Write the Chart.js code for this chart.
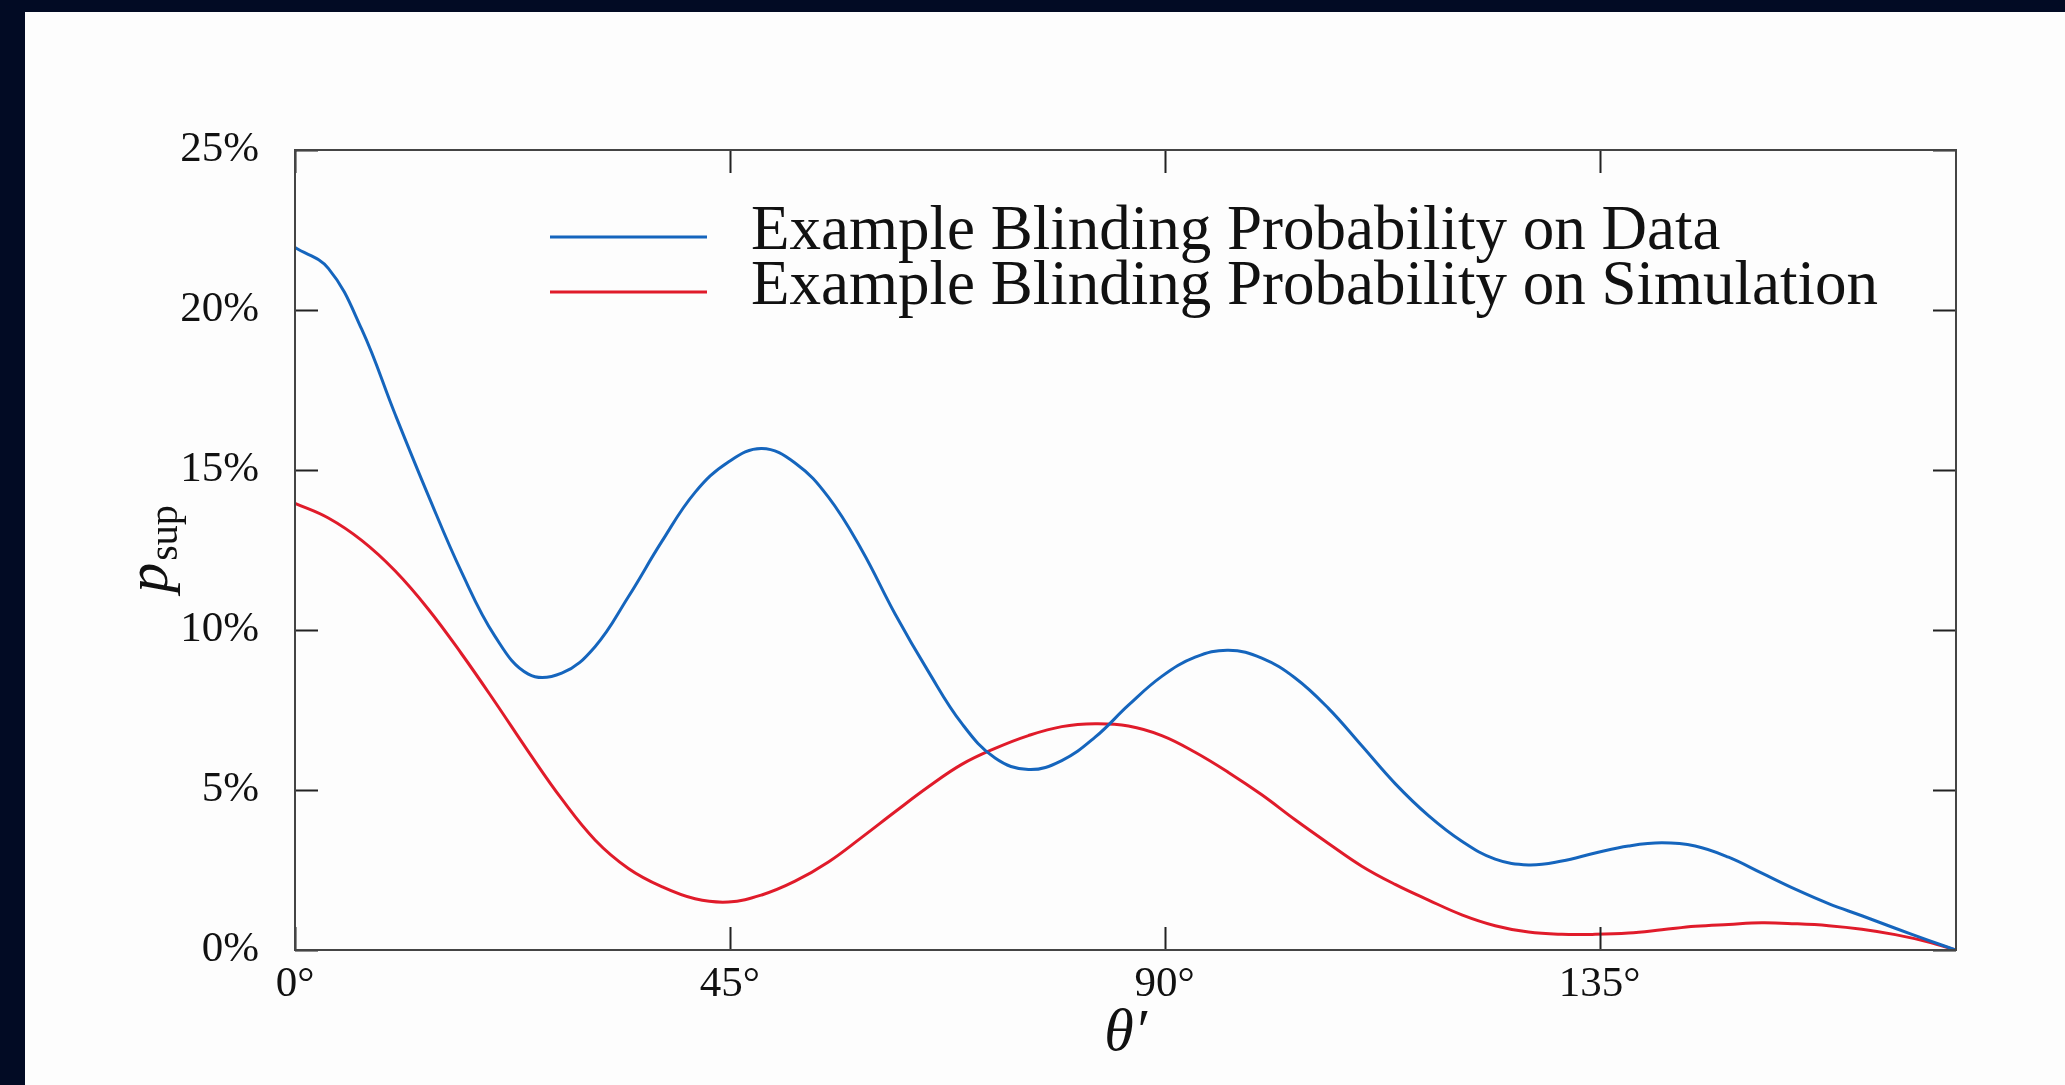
<!DOCTYPE html>
<html>
<head>
<meta charset="utf-8">
<script src="https://cdn.jsdelivr.net/npm/chart.js@4.4.1/dist/chart.umd.min.js"></script>
<style>
  html, body { margin: 0; padding: 0; background: #020b24; width: 2065px; height: 1085px; overflow: hidden; }
  #sheet { position: absolute; left: 25px; top: 12px; width: 2040px; height: 1073px; background: #fdfdfd; }
  canvas { display: block; }
</style>
</head>
<body>
<div id="sheet"><canvas id="chart" width="2040" height="1073"></canvas></div>
<script>
// theta' in degrees (axis runs 0 .. 3 rad)
const theta = [0, 3.45, 6.9, 10.35, 13.8, 17.25, 20.7, 24.15, 27.6, 31.05,
  34.5, 37.95, 41.4, 44.85, 48.3, 51.75, 55.2, 58.65, 62.1, 65.55,
  69.0, 72.45, 75.9, 79.35, 82.8, 86.25, 89.7, 93.15, 96.6, 100.05,
  103.5, 106.95, 110.4, 113.85, 117.3, 120.75, 124.2, 127.65, 131.1, 134.55,
  138.0, 141.45, 144.9, 148.35, 151.8, 155.25, 158.7, 162.15, 165.6, 169.05, 171.89];

const dataProb = [21.95, 21.3, 19.4, 16.75, 14.2, 11.8, 9.8, 8.62, 8.65, 9.48,
  11.04, 12.76, 14.3, 15.25, 15.67, 15.22, 14.15, 12.5, 10.5, 8.7,
  7.08, 6.0, 5.64, 5.92, 6.65, 7.65, 8.55, 9.15, 9.37, 9.12,
  8.5, 7.55, 6.38, 5.2, 4.2, 3.4, 2.84, 2.66, 2.78, 3.03,
  3.25, 3.35, 3.25, 2.9, 2.4, 1.9, 1.45, 1.07, 0.68, 0.3, 0];

const simProb = [13.96, 13.5, 12.8, 11.85, 10.65, 9.25, 7.75, 6.2, 4.72, 3.44,
  2.55, 1.98, 1.6, 1.5, 1.72, 2.15, 2.75, 3.52, 4.32, 5.1,
  5.8, 6.3, 6.7, 6.98, 7.07, 7.0, 6.7, 6.18, 5.55, 4.85,
  4.07, 3.33, 2.62, 2.05, 1.56, 1.1, 0.76, 0.56, 0.49, 0.49,
  0.53, 0.63, 0.74, 0.8, 0.85, 0.82, 0.76, 0.65, 0.48, 0.25, 0];

const seriesLabels = ['Example Blinding Probability on Data', 'Example Blinding Probability on Simulation'];
const xTicks = [0, 45, 90, 135];
const yTicks = [0, 5, 10, 15, 20, 25];

const SERIF = '"Liberation Serif", "DejaVu Serif", serif';
const BLUE = '#1565bd';
const RED = '#e01b2a';

// frame, inward tick marks, legend and axis titles
const decorations = {
  id: 'decorations',
  afterDatasetsDraw(chart) {
    const { ctx, chartArea: a, scales } = chart;
    const tick = 23;
    ctx.save();
    ctx.strokeStyle = '#222';
    ctx.lineWidth = 2;
    scales.x.ticks.forEach(t => {
      const px = Math.round(scales.x.getPixelForValue(t.value)) + 0.5;
      ctx.beginPath();
      ctx.moveTo(px, a.bottom); ctx.lineTo(px, a.bottom - tick);
      ctx.moveTo(px, a.top); ctx.lineTo(px, a.top + tick);
      ctx.stroke();
    });
    scales.y.ticks.forEach(t => {
      const py = Math.round(scales.y.getPixelForValue(t.value)) + 0.5;
      ctx.beginPath();
      ctx.moveTo(a.left, py); ctx.lineTo(a.left + tick, py);
      ctx.moveTo(a.right, py); ctx.lineTo(a.right - tick, py);
      ctx.stroke();
    });
    ctx.strokeStyle = '#444';
    ctx.lineWidth = 2;
    ctx.strokeRect(a.left, a.top, a.right - a.left, a.bottom - a.top);

    // legend
    ctx.font = '63px ' + SERIF;
    ctx.fillStyle = '#111';
    ctx.textBaseline = 'alphabetic';
    ctx.textAlign = 'left';
    chart.data.datasets.forEach((ds, i) => {
      const ly = 225 + i * 55;
      ctx.strokeStyle = ds.borderColor;
      ctx.lineWidth = 3;
      ctx.beginPath();
      ctx.moveTo(525, ly); ctx.lineTo(682, ly);
      ctx.stroke();
      ctx.fillText(ds.label, 726, ly + 12);
    });

    // x title
    ctx.font = 'italic 60px ' + SERIF;
    ctx.textAlign = 'center';
    ctx.textBaseline = 'middle';
    ctx.fillText('\u03B8\u2032', (a.left + a.right) / 2, 1022);

    // y title p_sup, rotated
    ctx.translate(142, (a.top + a.bottom) / 2);
    ctx.rotate(-Math.PI / 2);
    ctx.textAlign = 'left';
    ctx.textBaseline = 'alphabetic';
    ctx.font = 'italic 60px ' + SERIF;
    const pw = ctx.measureText('p').width;
    ctx.font = '40px ' + SERIF;
    const sw = ctx.measureText('sup').width;
    const x0 = -(pw + sw) / 2;
    ctx.font = 'italic 60px ' + SERIF;
    ctx.fillText('p', x0, 0);
    ctx.font = '40px ' + SERIF;
    ctx.fillText('sup', x0 + pw + 2, 10);
    ctx.restore();
  }
};

new Chart(document.getElementById('chart'), {
  type: 'line',
  data: {
    datasets: [
      {
        label: seriesLabels[0],
        data: theta.map((t, i) => ({ x: t, y: dataProb[i] })),
        borderColor: BLUE,
        borderWidth: 3,
        pointRadius: 0,
        tension: 0.4,
        fill: false,
      },
      {
        label: seriesLabels[1],
        data: theta.map((t, i) => ({ x: t, y: simProb[i] })),
        borderColor: RED,
        borderWidth: 3,
        pointRadius: 0,
        tension: 0.4,
        fill: false,
      },
    ],
  },
  options: {
    responsive: false,
    animation: false,
    events: [],
    layout: { padding: { top: 138, right: 109, left: 0, bottom: 0 } },
    scales: {
      x: {
        type: 'linear',
        min: 0,
        max: 171.89,
        afterBuildTicks: s => { s.ticks = xTicks.map(v => ({ value: v })); },
        afterFit: s => { s.height = 135; },
        grid: { display: false, drawTicks: false },
        border: { display: false },
        ticks: {
          padding: 9,
          color: '#111',
          font: { family: SERIF, size: 43 },
          maxRotation: 0,
          callback: v => v + '\u00B0',
        },
      },
      y: {
        type: 'linear',
        min: 0,
        max: 25,
        afterBuildTicks: s => { s.ticks = yTicks.map(v => ({ value: v })); },
        afterFit: s => { s.width = 270; },
        grid: { display: false, drawTicks: false },
        border: { display: false },
        ticks: {
          padding: 36,
          color: '#111',
          font: { family: SERIF, size: 43 },
          callback: v => v + '%',
        },
      },
    },
    plugins: {
      legend: { display: false },
      title: { display: false },
      tooltip: { enabled: false },
    },
  },
  plugins: [decorations],
});
</script>
</body>
</html>
